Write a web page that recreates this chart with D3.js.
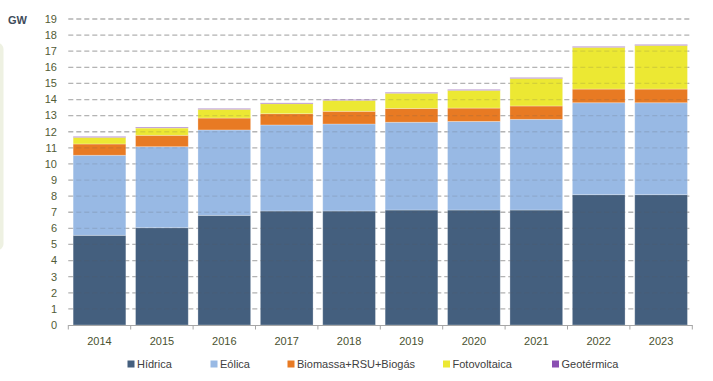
<!DOCTYPE html>
<html>
<head>
<meta charset="utf-8">
<script src="https://cdn.jsdelivr.net/npm/d3@7/dist/d3.min.js"></script>
<style>
  html, body { margin: 0; padding: 0; background: #fff; }
  svg { display: block; font-family: "Liberation Sans", Arial, sans-serif; }
</style>
</head>
<body>
<svg id="chart" width="713" height="381"></svg>
<script>
const years = ["2014","2015","2016","2017","2018","2019","2020","2021","2022","2023"];
const seriesNames = ["Hídrica","Eólica","Biomassa+RSU+Biogás","Fotovoltaica","Geotérmica"];
const hidrica      = [5.57, 6.04, 6.81, 7.08, 7.08, 7.14, 7.14, 7.14, 8.09, 8.09];
const eolica       = [4.97, 5.03, 5.30, 5.34, 5.40, 5.45, 5.50, 5.63, 5.71, 5.71];
const biomasa      = [0.70, 0.71, 0.74, 0.70, 0.79, 0.86, 0.83, 0.83, 0.85, 0.85];
const fotovoltaica = [0.41, 0.45, 0.54, 0.62, 0.68, 0.94, 1.10, 1.71, 2.59, 2.71];
const geotermica   = [0.05, 0.05, 0.05, 0.05, 0.05, 0.05, 0.05, 0.05, 0.05, 0.05];
const yTicks = d3.range(0, 20);
const unitLabel = "GW";

const colors = ["#445f7e", "#98b9e4", "#e87a23", "#ece833", "#8a4fb2"];
const seriesValues = [hidrica, eolica, biomasa, fotovoltaica, geotermica];

const table = years.map((y, i) => {
  const row = { year: y };
  seriesNames.forEach((s, k) => row[s] = seriesValues[k][i]);
  return row;
});

const svg = d3.select("#chart");

// left decorative panel
svg.append("rect").attr("x", -10).attr("y", 43).attr("width", 13.5).attr("height", 207)
  .attr("rx", 6).attr("fill", "#eef1e2");

const x = d3.scaleBand().domain(years).range([68.3, 692.3])
  .paddingInner(0.155).paddingOuter(0.0775);
const y = d3.scaleLinear().domain([0, 19]).range([325, 19]);

const gridTicks = yTicks.filter(t => t > 0);
// gridlines behind bars
svg.append("g").selectAll("line").data(gridTicks).join("line")
  .attr("x1", 68.3).attr("x2", 690)
  .attr("y1", d => y(d)).attr("y2", d => y(d))
  .attr("stroke", "#c6c6c6")
  .attr("stroke-width", 1.3)
  .attr("stroke-dasharray", "5,3");

const stack = d3.stack().keys(seriesNames);
const stacked = stack(table);

const barsG = svg.append("g");
stacked.forEach((layer, k) => {
  barsG.append("g").attr("fill", colors[k])
    .selectAll("rect").data(layer).join("rect")
    .attr("x", d => x(d.data.year))
    .attr("width", x.bandwidth())
    .attr("y", d => y(d[1]))
    .attr("height", d => y(d[0]) - y(d[1]))
    .attr("stroke", "rgba(255,255,255,0.35)")
    .attr("stroke-width", 0.8);
});

// subtle gridline overlay on bars
svg.append("g").selectAll("line").data(gridTicks).join("line")
  .attr("x1", 68.3).attr("x2", 690)
  .attr("y1", d => y(d)).attr("y2", d => y(d))
  .attr("stroke", "rgba(90,90,90,0.16)")
  .attr("stroke-width", 1.3)
  .attr("stroke-dasharray", "5,3");

// y labels
svg.append("g").selectAll("text").data(yTicks).join("text")
  .attr("x", 57).attr("y", d => y(d)).attr("dy", "0.35em")
  .attr("text-anchor", "end").attr("font-size", 11).attr("fill", "#525c36")
  .text(d => d);

svg.append("text").attr("x", 8).attr("y", 20).attr("dy", "0.35em")
  .attr("font-size", 11).attr("font-weight", "bold").attr("fill", "#3e4b5a")
  .text(unitLabel);

// x axis
const axisG = svg.append("g");
axisG.append("line").attr("x1", 68.3).attr("x2", 692.3).attr("y1", 325.5).attr("y2", 325.5)
  .attr("stroke", "#a6a6a6").attr("stroke-width", 1.2);
const offs = (x.step() - x.bandwidth()) / 2;
const bounds = years.map(yv => x(yv) - offs).concat([x(years[years.length-1]) + x.bandwidth() + offs]);
axisG.selectAll("line.tick").data(bounds).join("line").attr("class", "tick")
  .attr("x1", d => d).attr("x2", d => d).attr("y1", 325).attr("y2", 329.5)
  .attr("stroke", "#a6a6a6").attr("stroke-width", 1);
axisG.selectAll("text").data(years).join("text")
  .attr("x", d => x(d) + x.bandwidth() / 2).attr("y", 341).attr("dy", "0.35em")
  .attr("text-anchor", "middle").attr("font-size", 11).attr("fill", "#4a5230")
  .text(d => d);

// legend
const legendX = [127.5, 210.5, 287.5, 443, 552];
const lg = svg.append("g");
seriesNames.forEach((s, k) => {
  lg.append("rect").attr("x", legendX[k]).attr("y", 360.5).attr("width", 7).attr("height", 7)
    .attr("fill", colors[k]);
  lg.append("text").attr("x", legendX[k] + 9.5).attr("y", 364).attr("dy", "0.35em")
    .attr("font-size", 11).attr("fill", "#404040").text(s);
});
</script>
</body>
</html>
